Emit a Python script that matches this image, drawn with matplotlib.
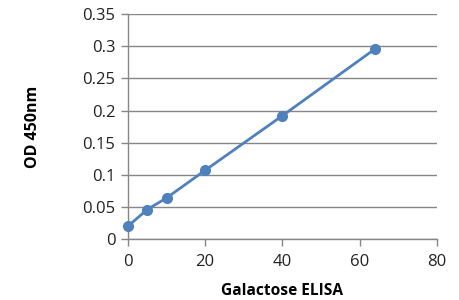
import matplotlib
matplotlib.use("Agg")
import matplotlib.pyplot as plt

# Galactose ELISA standard curve
concentration = [0, 5, 10, 20, 40, 64]
od_450 = [0.020, 0.046, 0.064, 0.107, 0.192, 0.296]
x_ticks = [0, 20, 40, 60, 80]
y_ticks = [0, 0.05, 0.1, 0.15, 0.2, 0.25, 0.3, 0.35]
y_tick_labels = ["0", "0.05", "0.1", "0.15", "0.2", "0.25", "0.3", "0.35"]

plt.rcParams['font.family'] = ['Open Sans', 'DejaVu Sans']

fig = plt.figure(figsize=(4.6, 3.0), dpi=100)
ax = fig.add_axes([0.278, 0.203, 0.672, 0.75])

grid_color = '#868686'
ax.plot(concentration, od_450, color='#4F81BD', linewidth=2,
        marker='o', markersize=7, zorder=3, clip_on=False)

ax.set_xlim(0, 80)
ax.set_ylim(0, 0.35)
ax.set_xticks(x_ticks)
ax.set_yticks(y_ticks)
ax.set_yticklabels(y_tick_labels)

ax.grid(axis='y', color=grid_color, linewidth=1)
ax.set_axisbelow(True)

for side in ['top', 'right']:
    ax.spines[side].set_visible(False)
for side in ['left', 'bottom']:
    ax.spines[side].set_color(grid_color)
    ax.spines[side].set_linewidth(1)

ax.tick_params(axis='both', colors=grid_color, length=5, width=1,
               labelcolor='#222222', labelsize=12)
ax.tick_params(axis='y', pad=4)
ax.tick_params(axis='x', pad=6)

ax.set_xlabel('Galactose ELISA', fontsize=11.2, fontweight='bold', labelpad=9)
ax.set_ylabel('OD 450nm', fontsize=11.5, fontweight='bold', labelpad=30)

fig.savefig('out.png', dpi=100)
